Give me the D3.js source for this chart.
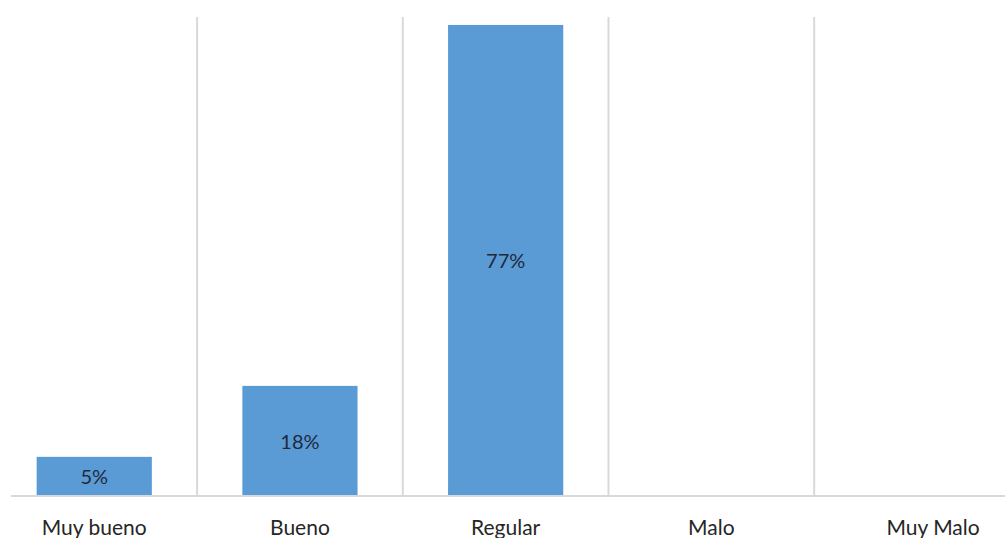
<!DOCTYPE html>
<html>
<head>
<meta charset="utf-8">
<script src="https://cdn.jsdelivr.net/npm/d3@7"></script>
<style>
  body { margin: 0; background: #fff; }
  text { font-family: Lato, "Open Sans", sans-serif; }
</style>
</head>
<body>
<div id="chart"></div>
<script>
var categories = ["Muy bueno", "Bueno", "Regular", "Malo", "Muy Malo"];
var values = [6.4, 18, 77, 0, 0];          // bar heights
var valueLabels = ["5%", "18%", "77%", "", ""];

var width = 1005,
	height = 538;

var svg = d3.select("#chart")
	.append("svg")
	.attr("width", width)
	.attr("height", height);

var x = d3.scaleBand()
	.domain(categories)
	.range([-8.6, 1019.9])
	.paddingInner(0.44)
	.paddingOuter(0.22);

var y = d3.scaleLinear()
	.domain([0, 78.3])
	.range([496, 17]);

// vertical separators between categories
var step = x.step();
svg.append("g")
	.attr("class", "grid")
	.selectAll("line")
	.data(categories.slice(1))
	.enter()
	.append("line")
	.attr("x1", function (d) { return x(d) - (step - x.bandwidth()) / 2; })
	.attr("x2", function (d) { return x(d) - (step - x.bandwidth()) / 2; })
	.attr("y1", y.range()[1])
	.attr("y2", y(0))
	.attr("stroke", "#d9d9d9")
	.attr("stroke-width", 2);

svg.selectAll("rect.bar")
	.data(values)
	.enter()
	.append("rect")
	.attr("class", "bar")
	.attr("x", function (d, i) { return x(categories[i]); })
	.attr("width", x.bandwidth())
	.attr("y", function (d) { return y(d); })
	.attr("height", function (d) { return y(0) - y(d); })
	.attr("fill", "#5b9bd5");

// baseline
svg.append("line")
	.attr("x1", 11)
	.attr("x2", width)
	.attr("y1", y(0))
	.attr("y2", y(0))
	.attr("stroke", "#d9d9d9")
	.attr("stroke-width", 2);

svg.selectAll("text.value")
	.data(values)
	.enter()
	.append("text")
	.attr("class", "value")
	.attr("x", function (d, i) { return x(categories[i]) + x.bandwidth() / 2; })
	.attr("y", function (d) { return (y(d) + y(0)) / 2 + 8; })
	.attr("text-anchor", "middle")
	.attr("font-size", 20)
	.attr("fill", "#1f2a3c")
	.text(function (d, i) { return valueLabels[i]; });

svg.selectAll("text.cat")
	.data(categories)
	.enter()
	.append("text")
	.attr("class", "cat")
	.attr("x", function (d, i) { return x(d) + x.bandwidth() / 2 + (i == 4 ? 16 : 0); })
	.attr("y", 535)
	.attr("text-anchor", "middle")
	.attr("font-size", 21)
	.attr("fill", "#262626")
	.text(function (d) { return d; });
</script>
</body>
</html>
